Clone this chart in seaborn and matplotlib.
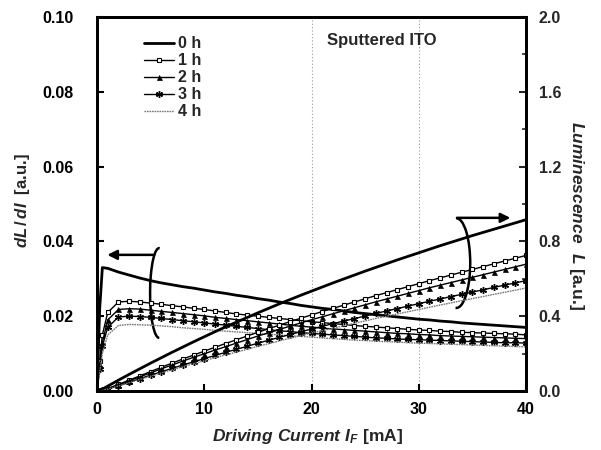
import matplotlib
matplotlib.use("Agg")
import matplotlib.pyplot as plt
from matplotlib.patches import Arc
from matplotlib.lines import Line2D
import seaborn as sns
import pandas as pd

# ---------------- data ----------------
current_mA = [0, 0.25, 0.5] + list(range(1, 41))

labels = ["0 h", "1 h", "2 h", "3 h", "4 h"]

dLdI_0h = [0, 0.022, 0.033, 0.0328, 0.0318, 0.031, 0.0302, 0.0295, 0.0289, 0.0284, 0.0279, 0.0275, 0.027,
           0.0265, 0.0261, 0.0256, 0.0252, 0.0247, 0.0243, 0.0238, 0.0234, 0.0229, 0.0225,
           0.0221, 0.0218, 0.0214, 0.021, 0.0207, 0.0204, 0.0201, 0.0198, 0.0195, 0.0192,
           0.019, 0.0187, 0.0185, 0.0182, 0.018, 0.0178, 0.0176, 0.0174, 0.0172, 0.017]
dLdI_1h = [0, 0.008, 0.015, 0.021, 0.0238, 0.024, 0.0238, 0.0235, 0.0232, 0.0228, 0.0225, 0.0221, 0.0218,
           0.0214, 0.021, 0.0206, 0.0203, 0.020, 0.0197, 0.0194, 0.0191, 0.0188, 0.0185,
           0.0183, 0.018, 0.0178, 0.0175, 0.0173, 0.0171, 0.0169, 0.0167, 0.0165, 0.0163,
           0.0162, 0.016, 0.0159, 0.0157, 0.0156, 0.0155, 0.0154, 0.0153, 0.0152, 0.015]
dLdI_2h = [0, 0.007, 0.013, 0.019, 0.0218, 0.022, 0.0219, 0.0216, 0.0213, 0.021, 0.0207, 0.0204, 0.0201,
           0.0197, 0.0194, 0.0191, 0.0188, 0.0185, 0.0182, 0.0179, 0.0176, 0.0173, 0.0171,
           0.0168, 0.0166, 0.0164, 0.0162, 0.016, 0.0158, 0.0156, 0.0154, 0.0153, 0.0151,
           0.015, 0.0148, 0.0147, 0.0146, 0.0145, 0.0144, 0.0143, 0.0142, 0.0141, 0.014]
dLdI_3h = [0, 0.006, 0.012, 0.017, 0.0198, 0.020, 0.0199, 0.0197, 0.0194, 0.0191, 0.0188, 0.0185, 0.0182,
           0.0179, 0.0176, 0.0173, 0.017, 0.0167, 0.0164, 0.0161, 0.0159, 0.0156, 0.0154,
           0.0152, 0.015, 0.0148, 0.0146, 0.0144, 0.0142, 0.0141, 0.0139, 0.0138, 0.0137,
           0.0136, 0.0135, 0.0134, 0.0133, 0.0132, 0.0131, 0.013, 0.0129, 0.0129, 0.0128]
dLdI_4h = [0, 0.005, 0.010, 0.015, 0.0175, 0.0178, 0.0177, 0.0176, 0.0174, 0.0172, 0.0169, 0.0167, 0.0165,
           0.0162, 0.016, 0.0158, 0.0156, 0.0154, 0.0152, 0.015, 0.0148, 0.0146, 0.0144,
           0.0142, 0.014, 0.0138, 0.0136, 0.0135, 0.0133, 0.0132, 0.0131, 0.0129, 0.0128,
           0.0127, 0.0126, 0.0125, 0.0124, 0.0123, 0.0122, 0.0121, 0.012, 0.0119, 0.0118]

lum_0h = [0, 0.003, 0.010, 0.026, 0.058, 0.089, 0.119, 0.149, 0.178, 0.207, 0.235, 0.263, 0.290,
          0.317, 0.343, 0.368, 0.393, 0.418, 0.442, 0.466, 0.489, 0.512, 0.534,
          0.556, 0.578, 0.599, 0.620, 0.641, 0.661, 0.681, 0.701, 0.720, 0.739,
          0.758, 0.777, 0.795, 0.813, 0.831, 0.848, 0.865, 0.882, 0.899, 0.916]
lum_1h = [0, 0.001, 0.004, 0.013, 0.035, 0.058, 0.081, 0.104, 0.127, 0.149, 0.171, 0.192, 0.213,
          0.234, 0.254, 0.274, 0.294, 0.314, 0.333, 0.352, 0.371, 0.389, 0.407,
          0.425, 0.442, 0.459, 0.476, 0.493, 0.510, 0.526, 0.542, 0.558, 0.574,
          0.590, 0.605, 0.620, 0.635, 0.650, 0.665, 0.680, 0.695, 0.710, 0.725]
lum_2h = [0, 0.001, 0.004, 0.012, 0.033, 0.054, 0.076, 0.097, 0.119, 0.139, 0.160, 0.180, 0.199,
          0.219, 0.237, 0.256, 0.275, 0.294, 0.311, 0.329, 0.347, 0.364, 0.381,
          0.397, 0.413, 0.429, 0.445, 0.461, 0.477, 0.492, 0.507, 0.522, 0.537,
          0.552, 0.566, 0.580, 0.594, 0.608, 0.622, 0.636, 0.650, 0.664, 0.678]
lum_3h = [0, 0.001, 0.003, 0.011, 0.028, 0.047, 0.066, 0.085, 0.103, 0.121, 0.139, 0.156, 0.173,
          0.190, 0.207, 0.223, 0.239, 0.256, 0.271, 0.287, 0.302, 0.317, 0.331,
          0.346, 0.360, 0.374, 0.387, 0.401, 0.415, 0.428, 0.441, 0.454, 0.467,
          0.480, 0.492, 0.505, 0.517, 0.529, 0.541, 0.554, 0.566, 0.578, 0.590]
lum_4h = [0, 0.001, 0.003, 0.010, 0.027, 0.044, 0.062, 0.079, 0.097, 0.113, 0.130, 0.146, 0.162,
          0.178, 0.193, 0.208, 0.223, 0.239, 0.253, 0.268, 0.282, 0.296, 0.310,
          0.323, 0.336, 0.349, 0.362, 0.375, 0.388, 0.400, 0.412, 0.424, 0.436,
          0.448, 0.460, 0.471, 0.483, 0.494, 0.505, 0.517, 0.528, 0.539, 0.551]

x_ticks = [0, 10, 20, 30, 40]
left_ticks = [0.00, 0.02, 0.04, 0.06, 0.08, 0.10]
right_ticks = [0.0, 0.4, 0.8, 1.2, 1.6, 2.0]
grid_x = [20, 30]

dLdI_series = [dLdI_0h, dLdI_1h, dLdI_2h, dLdI_3h, dLdI_4h]
lum_series = [lum_0h, lum_1h, lum_2h, lum_3h, lum_4h]

# ---------------- style ----------------
sns.set_style("ticks")
plt.rcParams["font.family"] = ["Liberation Sans", "DejaVu Sans"]
plt.rcParams["font.weight"] = "bold"
plt.rcParams["mathtext.fontset"] = "custom"
plt.rcParams["mathtext.it"] = "Liberation Sans:italic:bold"
plt.rcParams["mathtext.rm"] = "Liberation Sans:bold"
plt.rcParams["mathtext.bf"] = "Liberation Sans:bold"

styles = [
    dict(color="black", lw=2.0, marker=None),
    dict(color="black", lw=1.0, marker="s", ms=3.2, mfc="white", mec="black", mew=0.8),
    dict(color="black", lw=1.0, marker="^", ms=3.6, mfc="black", mec="black", mew=0.5),
    dict(color="black", lw=1.0, marker=(6, 2, 0), ms=5.0, mfc="black", mec="black", mew=1.0),
    dict(color="#777777", lw=1.0, ls=(0, (1.2, 0.6)), marker=None),
]

fig = plt.figure(figsize=(6.01, 4.50), dpi=100)
ax = fig.add_axes([97 / 601, 1 - 391 / 450, (526 - 97) / 601, (391 - 17) / 450])
ax2 = ax.twinx()

for xg in grid_x:
    ax.axvline(xg, color="#999999", lw=0.8, ls=(0, (1, 2)), zorder=0)

handles = []
for lab, d, lum, st in zip(labels, dLdI_series, lum_series, styles):
    df = pd.DataFrame({"I": current_mA, "dLdI": d, "L": lum})
    sns.lineplot(data=df, x="I", y="dLdI", ax=ax, sort=False, **st)
    sns.lineplot(data=df, x="I", y="L", ax=ax2, sort=False, **st)
    handles.append(Line2D([], [], label=lab, **st))

ax.set_xlim(0, 40)
ax.set_ylim(0, 0.10)
ax2.set_ylim(0, 2.0)
ax.set_xticks(x_ticks)
ax.set_yticks(left_ticks)
ax2.set_yticks(right_ticks)
ax.set_yticklabels([f"{v:.2f}" for v in left_ticks])
ax2.set_yticklabels([f"{v:.1f}" for v in right_ticks])
ax2.set_yticks([0.2, 0.6, 1.0, 1.4, 1.8], minor=True)

for a in (ax, ax2):
    for s in a.spines.values():
        s.set_linewidth(2.0)
        s.set_color("black")
ax.tick_params(axis="both", direction="in", length=5, width=1.5, labelsize=11.5, colors="black")
ax.tick_params(axis="y", pad=17)
ax.tick_params(axis="x", pad=8)
ax2.tick_params(axis="y", direction="in", length=5, width=1.5, labelsize=11.5, pad=9)
ax2.tick_params(axis="y", which="minor", direction="in", length=3, width=1.2)
for t in ax.get_xticklabels() + ax.get_yticklabels() + ax2.get_yticklabels():
    t.set_fontweight("bold")

ax.set_xlabel(r"$Driving\ Current\ I_F$ [mA]", fontsize=12.5, fontweight="bold")
ax.set_ylabel(r"$dL\,/\,dI$  [a.u.]", fontsize=12, fontweight="bold")
ax2.set_ylabel(r"$Luminescence\ \ L$ [a.u.]", fontsize=12.5, fontweight="bold", rotation=-90)
ax.xaxis.set_label_coords(0.49, -0.095)
ax.yaxis.set_label_coords(-0.152, 0.51)
ax2.yaxis.set_label_coords(1.14, 0.47)

leg = ax.legend(handles=handles, loc="upper left", bbox_to_anchor=(0.095, 0.965), frameon=False,
                fontsize=11.5, handlelength=1.9, handletextpad=0.2, labelspacing=0.12,
                numpoints=1, borderaxespad=0)
for t in leg.get_texts():
    t.set_fontweight("bold")

ax.text(26.6, 0.0936, "Sputtered ITO", ha="center", va="center", fontsize=12, fontweight="bold")

# annotation ellipses and arrows
ax.add_patch(Arc((5.8, 0.0262), 1.7, 0.024, theta1=15, theta2=300, lw=1.8, color="black"))
ax.annotate("", xy=(0.7, 0.0364), xytext=(5.5, 0.0364),
            arrowprops=dict(arrowstyle="-|>", color="black", lw=1.8, mutation_scale=14))
ax.add_patch(Arc((33.5, 0.0342), 2.6, 0.024, theta1=190, theta2=510, lw=1.8, color="black"))
ax.annotate("", xy=(38.8, 0.0463), xytext=(33.3, 0.0463),
            arrowprops=dict(arrowstyle="-|>", color="black", lw=1.8, mutation_scale=14))

fig.savefig("out.png", dpi=100, facecolor="white")
